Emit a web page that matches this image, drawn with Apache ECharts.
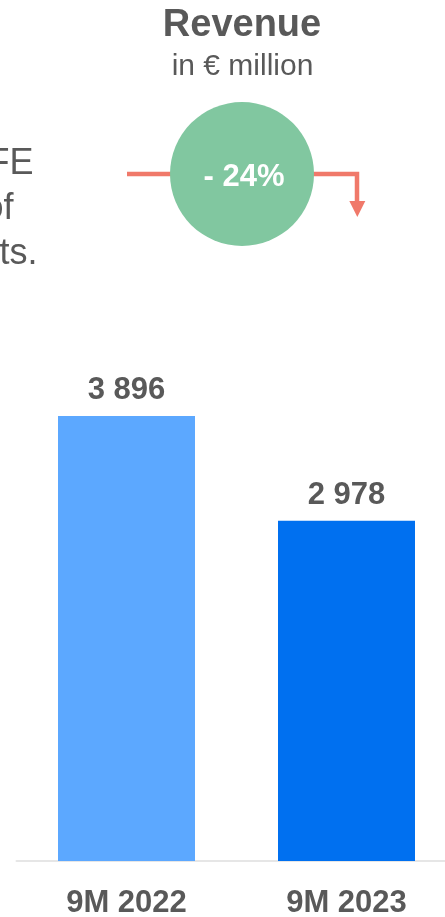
<!DOCTYPE html>
<html>
<head>
<meta charset="utf-8">
<script src="https://cdn.jsdelivr.net/npm/echarts@6/dist/echarts.min.js"></script>
<style>
html,body{margin:0;padding:0;background:#fff;}
#chart{width:445px;height:917px;}
</style>
</head>
<body>
<div id="chart"></div>
<script>
var categories = ['9M 2022', '9M 2023'];
var revenue = [3896, 2978];
var barColors = ['#5ca8ff', '#0070f0'];
var titleText = 'Revenue';
var subtitleText = 'in € million';
var sideTexts = ['FE', 'of', 'ts.'];

function fmt(v) {
  return String(v).replace(/\B(?=(\d{3})+(?!\d))/g, ' ');
}
var change = Math.round((revenue[1] - revenue[0]) / revenue[0] * 100);
var changeText = (change < 0 ? '- ' : '+ ') + Math.abs(change) + '%';

var FONT = '"Liberation Sans", Arial, sans-serif';
var GREY = '#595959';
var RED = '#f0796a';

var chart = echarts.init(document.getElementById('chart'));
chart.setOption({
  animation: false,
  backgroundColor: '#ffffff',
  grid: { left: 16.5, width: 440, top: 404, bottom: 56, containLabel: false, outerBoundsMode: 'none' },
  xAxis: {
    type: 'category',
    data: categories,
    axisLine: { show: true, lineStyle: { color: '#e6e6e6', width: 2 } },
    axisTick: { show: false },
    axisLabel: { margin: 27, color: GREY, fontSize: 31, fontWeight: 'bold', fontFamily: FONT }
  },
  yAxis: {
    type: 'value', min: 0, max: 4000,
    show: false,
    splitLine: { show: false }
  },
  series: [{
    type: 'bar',
    barWidth: 137,
    data: revenue.map(function (v, i) { return { value: v, itemStyle: { color: barColors[i] } }; }),
    label: {
      show: true, position: 'top', distance: 10,
      formatter: function (p) { return fmt(p.value); },
      color: GREY, fontSize: 31, fontWeight: 'bold', fontFamily: FONT
    }
  }],
  graphic: [
    { type: 'text', x: 242, y: 25.5, style: { text: titleText, fill: GREY, font: 'bold 38px ' + FONT, textAlign: 'center', textVerticalAlign: 'middle' } },
    { type: 'text', x: 242.5, y: 67, style: { text: subtitleText, fill: GREY, font: '30px ' + FONT, textAlign: 'center', textVerticalAlign: 'middle' } },
    { type: 'text', x: 33.5, y: 164.2, style: { text: sideTexts[0], fill: GREY, font: '36px ' + FONT, textAlign: 'right', textVerticalAlign: 'middle' } },
    { type: 'text', x: 13.5, y: 209.2, style: { text: sideTexts[1], fill: GREY, font: '36px ' + FONT, textAlign: 'right', textVerticalAlign: 'middle' } },
    { type: 'text', x: 37.5, y: 254.2, style: { text: sideTexts[2], fill: GREY, font: '36px ' + FONT, textAlign: 'right', textVerticalAlign: 'middle' } },
    { type: 'polyline', z: 10, shape: { points: [[127, 174], [357, 174], [357, 204]] }, style: { stroke: RED, lineWidth: 4.5, fill: null } },
    { type: 'polygon', z: 10, shape: { points: [[349.3, 201], [365.3, 201], [357.3, 217]] }, style: { fill: RED } },
    { type: 'circle', z: 11, shape: { cx: 242, cy: 174, r: 72 }, style: { fill: '#81c7a0' } },
    { type: 'text', z: 12, x: 244, y: 177, style: { text: changeText, fill: '#ffffff', font: 'bold 31px ' + FONT, textAlign: 'center', textVerticalAlign: 'middle' } }
  ]
});
</script>
</body>
</html>
